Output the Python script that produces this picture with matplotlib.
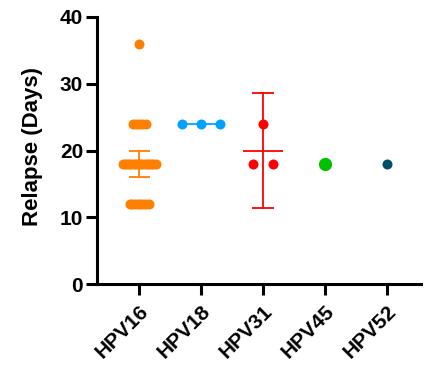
import numpy as np
import matplotlib
matplotlib.use("Agg")
import matplotlib.pyplot as plt
from matplotlib.transforms import ScaledTranslation

plt.rcParams['font.family'] = ['Liberation Sans', 'DejaVu Sans']

# Data
categories = ["HPV16", "HPV18", "HPV31", "HPV45", "HPV52"]
hpv16 = [36] + [24] * 5 + [18] * 16 + [12] * 8
hpv18 = [24, 24, 24]
hpv31 = [24, 18, 18]
hpv45 = [18]
hpv52 = [18]
groups = [hpv16, hpv18, hpv31, hpv45, hpv52]
colors = ["#FF8000", "#00A2FF", "#FF0000", "#00C000", "#004D66"]
marker_sizes = [7.2, 7.2, 7.2, 9.5, 7.2]

# two-sided 95% t critical values by degrees of freedom
t975 = {2: 4.303, 29: 2.045}

# horizontal spread (x units) of the point centres within each value row
row_spread = {(0, 24): 0.21, (0, 18): 0.53, (0, 12): 0.31, (1, 24): 0.61, (2, 18): 0.32}

fig = plt.figure(figsize=(4.24, 3.65), dpi=100)
ax = fig.add_axes([97 / 424, (365 - 284) / 365, (421 - 97) / 424, (284 - 17) / 365])

for i, (vals, col, ms) in enumerate(zip(groups, colors, marker_sizes)):
    vals = np.array(vals, dtype=float)
    if len(vals) >= 2:
        m = vals.mean()
        sd = vals.std(ddof=1)
        ci = t975[len(vals) - 1] * sd / np.sqrt(len(vals))
        ax.plot([i - 0.33, i + 0.33], [m, m], color=col, lw=1.3, zorder=2, solid_capstyle='butt')
        if ci > 0:
            ax.plot([i, i], [m - ci, m + ci], color=col, lw=1.3, zorder=2)
            for y in (m - ci, m + ci):
                ax.plot([i - 0.17, i + 0.17], [y, y], color=col, lw=1.3, zorder=2, solid_capstyle='butt')
    for v in np.unique(vals):
        n = int(np.sum(vals == v))
        w = row_spread.get((i, int(v)), 0.0) if n > 1 else 0.0
        xs = i + (np.linspace(-w / 2, w / 2, n) if n > 1 else np.zeros(1))
        ax.plot(xs, [v] * n, 'o', color=col, ms=ms, mec='none', zorder=3, clip_on=False)

ax.set_xlim(-0.68, 4.55)
ax.set_ylim(0, 40)
ax.set_yticks([0, 10, 20, 30, 40])
ax.set_xticks(range(len(categories)))
ax.set_xticklabels(categories, rotation=45, ha='right', rotation_mode='anchor',
                   fontweight='bold', fontsize=15)
shift = ScaledTranslation(-4 / 100, 0, fig.dpi_scale_trans)
for lab in ax.get_xticklabels():
    lab.set_transform(lab.get_transform() + shift)
for lab in ax.get_yticklabels():
    lab.set_fontweight('bold')
    lab.set_fontsize(15)
ax.set_ylabel("Relapse (Days)", fontweight='bold', fontsize=16)
ax.yaxis.set_label_coords(-0.167, 0.515)

for s in ['top', 'right']:
    ax.spines[s].set_visible(False)
for s in ['left', 'bottom']:
    ax.spines[s].set_linewidth(2.2)
ax.tick_params(axis='both', width=2.2, length=8, pad=2)
ax.tick_params(axis='x', pad=5)

fig.savefig("out.png", dpi=100)
